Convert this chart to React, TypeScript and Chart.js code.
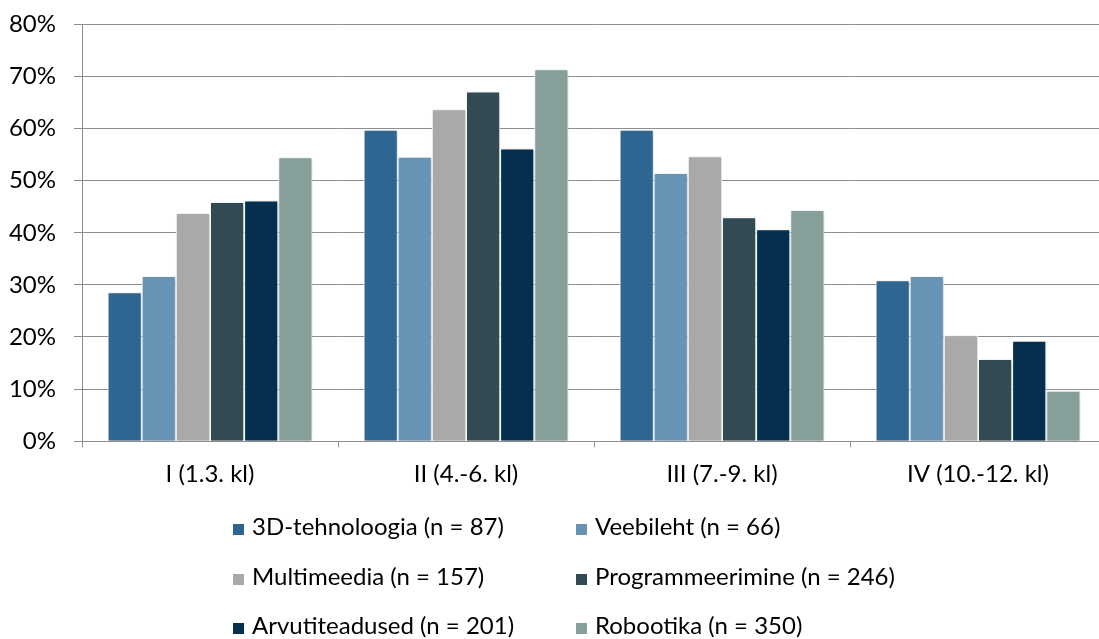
import React, { useEffect, useRef } from "react";
import { Chart, registerables } from "chart.js";

Chart.register(...registerables);

const categories = ["I (1.3. kl)", "II (4.-6. kl)", "III (7.-9. kl)", "IV (10.-12. kl)"];
const seriesNames = [
  "3D-tehnoloogia (n = 87)",
  "Veebileht (n = 66)",
  "Multimeedia (n = 157)",
  "Programmeerimine (n = 246)",
  "Arvutiteadused (n = 201)",
  "Robootika (n = 350)",
];
const tehnoloogia3D = [28.6, 59.8, 59.8, 30.9];
const veebileht = [31.7, 54.6, 51.5, 31.7];
const multimeedia = [43.8, 63.7, 54.7, 20.3];
const programmeerimine = [45.9, 67.1, 43.0, 15.8];
const arvutiteadused = [46.2, 56.2, 40.7, 19.3];
const robootika = [54.5, 71.4, 44.4, 9.7];
const yTicks = [0, 10, 20, 30, 40, 50, 60, 70, 80];

const seriesValues = [tehnoloogia3D, veebileht, multimeedia, programmeerimine, arvutiteadused, robootika];
const colors = ["#2E6591", "#6793B5", "#A9A9A9", "#324A54", "#052E4F", "#879F9B"];

const FONT = "Lato, 'Noto Sans', sans-serif";
const FONT_SIZE = 24;
const TOP_SHIFT = 8;

const shadowPlugin = {
  id: "barShadow",
  beforeDatasetDraw(chart: any) {
    const ctx = chart.ctx;
    ctx.save();
    ctx.shadowColor = "rgba(0,0,0,0.22)";
    ctx.shadowBlur = 4;
    ctx.shadowOffsetX = 1;
    ctx.shadowOffsetY = 1;
  },
  afterDatasetDraw(chart: any) {
    chart.ctx.restore();
  },
};

const gridLegendPlugin = {
  id: "gridLegend",
  afterDraw(chart: any) {
    const ctx = chart.ctx;
    const colX = [233, 576];
    const rowBaseline = [535, 585, 634].map((v) => v + TOP_SHIFT);
    const box = 11;
    ctx.save();
    ctx.font = `${FONT_SIZE}px ${FONT}`;
    ctx.textBaseline = "alphabetic";
    ctx.textAlign = "left";
    chart.data.datasets.forEach((ds: any, i: number) => {
      const x = colX[i % 2];
      const y = rowBaseline[Math.floor(i / 2)];
      ctx.fillStyle = ds.backgroundColor;
      ctx.fillRect(x, y - box, box, box);
      ctx.fillStyle = "#000";
      ctx.fillText(ds.label, x + box + 8, y);
    });
    ctx.restore();
  },
};

export default function App() {
  const ref = useRef<HTMLCanvasElement | null>(null);
  useEffect(() => {
    if (!ref.current) return;
    const chart = new Chart(ref.current, {
      type: "bar",
      data: {
        labels: categories,
        datasets: seriesNames.map((name, i) => ({
          label: name,
          data: seriesValues[i],
          backgroundColor: colors[i],
          borderColor: "#ffffff",
          borderWidth: 1,
          categoryPercentage: 0.8,
          barPercentage: 1.0,
        })),
      },
      options: {
        animation: false,
        responsive: false,
        maintainAspectRatio: false,
        layout: { padding: { top: 0, right: 0, left: 0, bottom: 137 } },
        plugins: {
          legend: { display: false },
          tooltip: { enabled: false },
        },
        scales: {
          x: {
            grid: {
              display: true,
              offset: true,
              drawOnChartArea: false,
              drawTicks: true,
              tickLength: 6,
              color: "#8e8e8e",
            },
            border: { color: "#8e8e8e", width: 1 },
            ticks: {
              color: "#000",
              font: { family: FONT, size: FONT_SIZE },
              padding: 13,
            },
          },
          y: {
            min: 0,
            max: 80,
            afterBuildTicks: (axis: any) => {
              axis.ticks = yTicks.map((v) => ({ value: v }));
            },
            afterFit: (axis: any) => {
              axis.width = 82;
            },
            grid: {
              color: "#8e8e8e",
              lineWidth: 1,
              tickLength: 8,
              drawTicks: true,
            },
            border: { color: "#8e8e8e", width: 1 },
            ticks: {
              color: "#000",
              font: { family: FONT, size: FONT_SIZE },
              padding: 18,
              callback: (v: any) => `${v}%`,
            },
          },
        },
      },
      plugins: [shadowPlugin, gridLegendPlugin],
    });
    return () => chart.destroy();
  }, []);
  return (
    <div style={{ position: "fixed", left: 0, top: 0, width: 1099, height: 639, overflow: "hidden", background: "#fff" }}>
      <canvas
        ref={ref}
        width={1106}
        height={639 + TOP_SHIFT}
        style={{ display: "block", position: "absolute", left: 0, top: -TOP_SHIFT, width: 1106, height: 639 + TOP_SHIFT }}
      />
    </div>
  );
}
